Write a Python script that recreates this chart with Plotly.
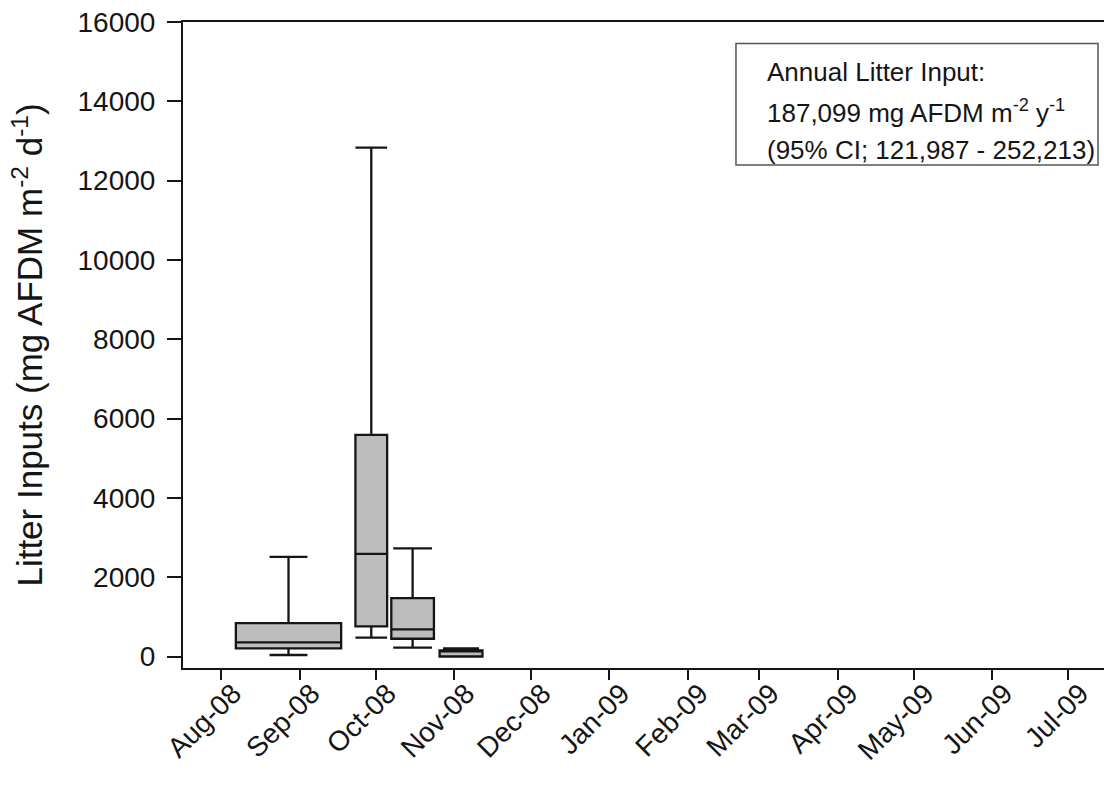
import plotly.graph_objects as go

# ---- data ----
month_ticks = ['2008-08-01', '2008-09-01', '2008-10-01', '2008-11-01', '2008-12-01', '2009-01-01',
               '2009-02-01', '2009-03-01', '2009-04-01', '2009-05-01', '2009-06-01', '2009-07-01']
month_labels = ['Aug-08', 'Sep-08', 'Oct-08', 'Nov-08', 'Dec-08', 'Jan-09',
                'Feb-09', 'Mar-09', 'Apr-09', 'May-09', 'Jun-09', 'Jul-09']

box_dates = ['2008-08-27 14:00', '2008-09-29 05:00', '2008-10-15 12:00', '2008-11-03 14:00']
box_width_days = [41.5, 12.5, 16.8, 16.9]
lower_whisker = [38, 474, 222, 0]
q1_vals = [207, 761, 448, 0]
median_vals = [358, 2590, 685, 150]
q3_vals = [844, 5587, 1474, 155]
upper_whisker = [2514, 12834, 2725, 207]
cap_ratio = [0.36, 1.0, 0.91, 0.84]

y_ticks = [0, 2000, 4000, 6000, 8000, 10000, 12000, 14000, 16000]
y_labels = ['0', '2000', '4000', '6000', '8000', '10000', '12000', '14000', '16000']

annot_lines = ['Annual Litter Input:',
               '187,099 mg AFDM m<sup>-2</sup> y<sup>-1</sup>',
               '(95% CI; 121,987 - 252,213)']

FONT = 'Liberation Sans, Arial, sans-serif'
INK = '#151515'

fig = go.Figure()
for i in range(len(box_dates)):
    fig.add_trace(go.Box(
        x=[box_dates[i]],
        q1=[q1_vals[i]], median=[median_vals[i]], q3=[q3_vals[i]],
        lowerfence=[lower_whisker[i]], upperfence=[upper_whisker[i]],
        width=box_width_days[i] * 86400000,
        whiskerwidth=cap_ratio[i],
        fillcolor='#bdbdbd',
        line=dict(color=INK, width=2.3),
        boxpoints=False,
        showlegend=False,
    ))

fig.update_xaxes(
    type='date', range=['2008-07-17', '2009-07-15'],
    tickmode='array', tickvals=month_ticks, ticktext=month_labels,
    tickangle=-45, ticks='outside', ticklen=10, tickwidth=2, tickcolor=INK,
    showline=True, linewidth=2, linecolor=INK, mirror=True,
    showgrid=False, zeroline=False,
    tickfont=dict(family=FONT, size=28, color=INK),
    ticklabelstandoff=-14, ticklabelshift=12,
)
fig.update_yaxes(
    range=[-290, 16000],
    tickmode='array', tickvals=y_ticks, ticktext=y_labels,
    ticks='outside', ticklen=14, tickwidth=2, tickcolor=INK,
    showline=True, linewidth=2, linecolor=INK,
    showgrid=False, zeroline=False,
    tickfont=dict(family=FONT, size=28, color=INK),
    ticklabelstandoff=6,
    title=dict(text='Litter Inputs (mg AFDM m<sup>-2</sup> d<sup>-1</sup>)',
               font=dict(family=FONT, size=35, color=INK), standoff=24),
)

# info box
fig.add_shape(type='rect', xref='paper', yref='paper',
              x0=0.6004, x1=0.9935, y0=0.7786, y1=0.9667,
              line=dict(color='#555555', width=1.5), fillcolor='white', layer='below')
for txt, yy in zip(annot_lines, [0.9226, 0.8607, 0.8019]):
    fig.add_annotation(text=txt, xref='paper', yref='paper', x=0.6319, y=yy,
                       xanchor='left', yanchor='middle', showarrow=False,
                       font=dict(family=FONT, size=26, color=INK))

fig.update_layout(
    width=1104, height=790,
    margin=dict(l=183, r=0, t=22, b=122),
    plot_bgcolor='white', paper_bgcolor='white',
    font=dict(family=FONT, color=INK),
)

fig.write_html('out.html')
